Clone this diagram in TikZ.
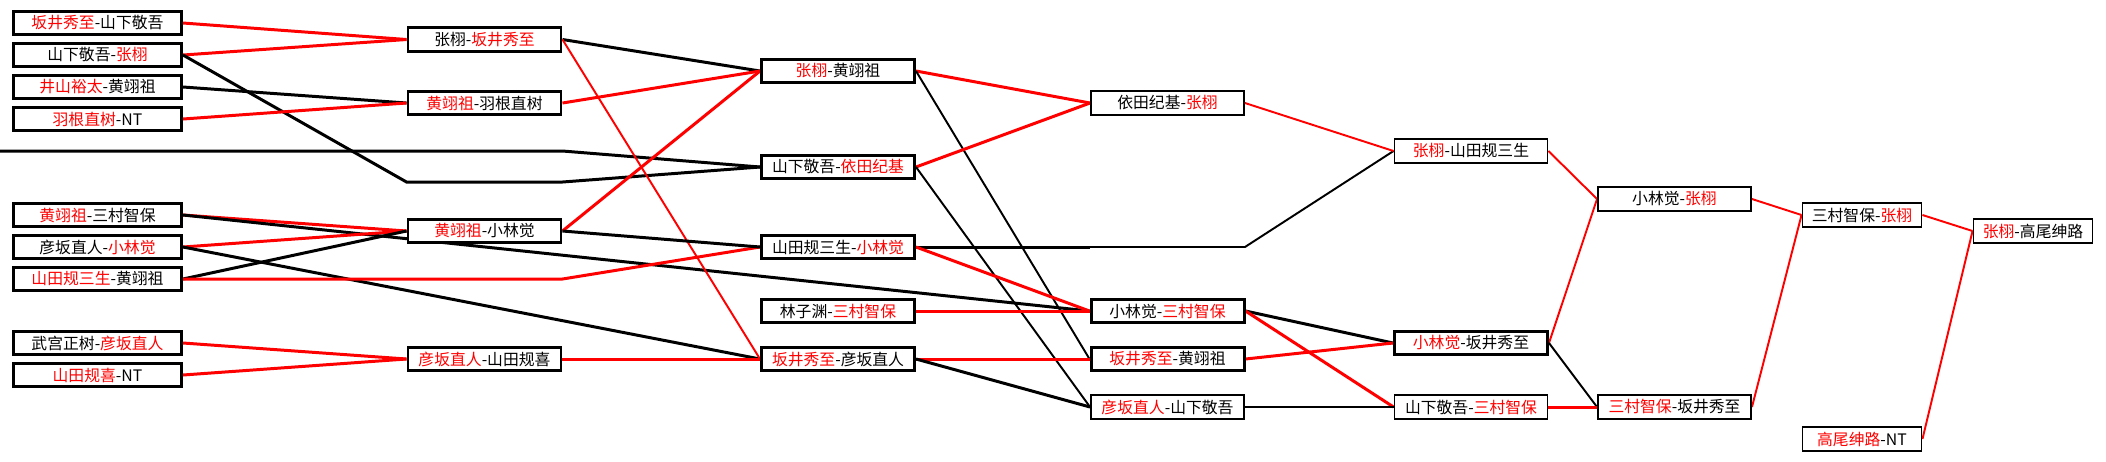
\documentclass[tikz,border=0pt]{standalone}
\usepackage{fontspec}
\usepackage{xcolor}
\usepackage{tikz}
\usetikzlibrary{backgrounds}
\newfontfamily\cjk{Noto Sans CJK SC}
\newcommand{\rd}[1]{\textcolor{red}{#1}}

\begin{document}
\begin{tikzpicture}[
    pbox/.style={draw, fill=white, line width=0.85pt, inner sep=0pt,
                 minimum width=1.53cm, minimum height=0.235cm,
                 font=\cjk\fontsize{4.5}{5}\selectfont, align=center},
    wbox/.style={pbox, minimum width=1.68cm},
    pboxlt/.style={pbox, line width=0.55pt, minimum height=0.24cm},
    nboxlt/.style={pboxlt, minimum width=1.19cm},
    redline/.style={draw=red, line width=0.85pt},
    blkline/.style={draw=black, line width=0.85pt},
    redfine/.style={draw=red, line width=0.55pt},
    blkfine/.style={draw=black, line width=0.55pt},
]

\useasboundingbox (0,0) rectangle (21.06,-4.61);

%% ── Round 1 ──────────────────────────────────────────────────────────────
\node[wbox] (c1a) at (0.975, -0.23) {\rd{坂井秀至}-山下敬吾};
\node[wbox] (c1b) at (0.975, -0.55) {山下敬吾-\rd{张栩}};
\node[wbox] (c1c) at (0.975, -0.87) {\rd{井山裕太}-黄翊祖};
\node[wbox] (c1d) at (0.975, -1.19) {\rd{羽根直树}-NT};
\node[wbox] (c1e) at (0.975, -2.15) {\rd{黄翊祖}-三村智保};
\node[wbox] (c1f) at (0.975, -2.47) {彦坂直人-\rd{小林觉}};
\node[wbox] (c1g) at (0.975, -2.79) {\rd{山田规三生}-黄翊祖};
\node[wbox] (c1h) at (0.975, -3.43) {武宫正树-\rd{彦坂直人}};
\node[wbox] (c1i) at (0.975, -3.75) {\rd{山田规喜}-NT};

%% ── Round 2 ──────────────────────────────────────────────────────────────
\node[pbox] (c2a) at (4.845, -0.395) {张栩-\rd{坂井秀至}};
\node[pbox] (c2b) at (4.845, -1.03)  {\rd{黄翊祖}-羽根直树};
\node[pbox] (c2c) at (4.845, -2.31)  {\rd{黄翊祖}-小林觉};
\node[pbox] (c2d) at (4.845, -3.59)  {\rd{彦坂直人}-山田规喜};

%% ── Round 3 ──────────────────────────────────────────────────────────────
\node[pbox] (c3a) at (8.38, -0.71) {\rd{张栩}-黄翊祖};
\node[pbox] (c3b) at (8.38, -1.67) {山下敬吾-\rd{依田纪基}};
\node[pbox] (c3c) at (8.38, -2.47) {山田规三生-\rd{小林觉}};
\node[pbox] (c3d) at (8.38, -3.11) {林子渊-\rd{三村智保}};
\node[pbox] (c3e) at (8.38, -3.59) {\rd{坂井秀至}-彦坂直人};

%% ── Round 4 ──────────────────────────────────────────────────────────────
\node[pboxlt] (c4a) at (11.675, -1.03) {依田纪基-\rd{张栩}};
\node[pbox]   (c4b) at (11.675, -3.11) {小林觉-\rd{三村智保}};
\node[pbox]   (c4c) at (11.675, -3.59) {\rd{坂井秀至}-黄翊祖};
\node[pboxlt] (c4d) at (11.675, -4.07) {\rd{彦坂直人}-山下敬吾};

%% ── Rounds 5 to 8 ────────────────────────────────────────────────────────
\node[pboxlt] (c5a) at (14.71, -1.51) {\rd{张栩}-山田规三生};
\node[pbox]   (c5b) at (14.71, -3.43) {\rd{小林觉}-坂井秀至};
\node[pboxlt] (c5c) at (14.71, -4.07) {山下敬吾-\rd{三村智保}};
\node[pboxlt] (c6a) at (16.745, -1.99) {小林觉-\rd{张栩}};
\node[pboxlt] (c6b) at (16.745, -4.07) {\rd{三村智保}-坂井秀至};
\node[nboxlt] (c7a) at (18.62, -2.15) {三村智保-\rd{张栩}};
\node[nboxlt] (c7b) at (18.62, -4.39) {\rd{高尾绅路}-NT};
\node[nboxlt] (c8)  at (20.33, -2.31) {\rd{张栩}-高尾绅路};

%% bends of the longer paths
\coordinate (e0) at (0, -1.51);
\coordinate (e1) at (c2a.east |- e0);
\coordinate (kA) at (c2a.west |- 0,-1.82);
\coordinate (kB) at (c2a.east |- kA);
\coordinate (kC) at (c2a.east |- c1g.east);
\coordinate (kD) at (c4a.west |- c3c.east);
\coordinate (kE) at (c4a.east |- c3c.east);

\begin{scope}[on background layer]
  \fill[white] (0,0) rectangle (21.06,-4.61);
  % round 1 -> 2
  \draw[redline] (c1a.east) -- (c2a.west);
  \draw[redline] (c1b.east) -- (c2a.west);
  \draw[blkline] (c1b.east) -- (kA) -- (kB) -- (c3b.west);
  \draw[blkline] (c1c.east) -- (c2b.west);
  \draw[redline] (c1d.east) -- (c2b.west);
  \draw[blkline] (e0) -- (e1) -- (c3b.west);
  \draw[redline] (c1e.east) -- (c2c.west);
  \draw[blkline] (c1e.east) -- (c4b.west);
  \draw[redline] (c1f.east) -- (c2c.west);
  \draw[blkline] (c1f.east) -- (c3e.west);
  \draw[blkline] (c1g.east) -- (c2c.west);
  \draw[redline] (c1g.east) -- (kC) -- (c3c.west);
  \draw[redline] (c1h.east) -- (c2d.west);
  \draw[redline] (c1i.east) -- (c2d.west);
  % round 2 -> 3
  \draw[blkline] (c2a.east) -- (c3a.west);
  \draw[redfine] (c2a.east) -- (c3e.west);
  \draw[redline] (c2b.east) -- (c3a.west);
  \draw[redline] (c2c.east) -- (c3a.west);
  \draw[blkline] (c2c.east) -- (c3c.west);
  \draw[redline] (c2d.east) -- (c3e.west);
  % round 3 -> 4
  \draw[redline] (c3a.east) -- (c4a.west);
  \draw[blkfine] (c3a.east) -- (c4c.west);
  \draw[redline] (c3b.east) -- (c4a.west);
  \draw[blkfine] (c3b.east) -- (c4d.west);
  \draw[blkline] (c3c.east) -- (kD);
  \draw[blkfine] (kD) -- (kE) -- (c5a.west);
  \draw[redline] (c3c.east) -- (c4b.west);
  \draw[redline] (c3d.east) -- (c4b.west);
  \draw[redline] (c3e.east) -- (c4c.west);
  \draw[blkline] (c3e.east) -- (c4d.west);
  % round 4 -> 5
  \draw[redfine] (c4a.east) -- (c5a.west);
  \draw[blkline] (c4b.east) -- (c5b.west);
  \draw[redline] (c4b.east) -- (c5c.west);
  \draw[redline] (c4c.east) -- (c5b.west);
  \draw[blkfine] (c4d.east) -- (c5c.west);
  % rounds 5 -> 8
  \draw[redfine] (c5a.east) -- (c6a.west);
  \draw[redfine] (c5b.east) -- (c6a.west);
  \draw[blkfine] (c5b.east) -- (c6b.west);
  \draw[redline] (c5c.east) -- (c6b.west);
  \draw[redfine] (c6a.east) -- (c7a.west);
  \draw[redfine] (c6b.east) -- (c7a.west);
  \draw[redfine] (c7a.east) -- (c8.west);
  \draw[redfine] (c7b.east) -- (c8.west);
\end{scope}

\end{tikzpicture}
\end{document}
